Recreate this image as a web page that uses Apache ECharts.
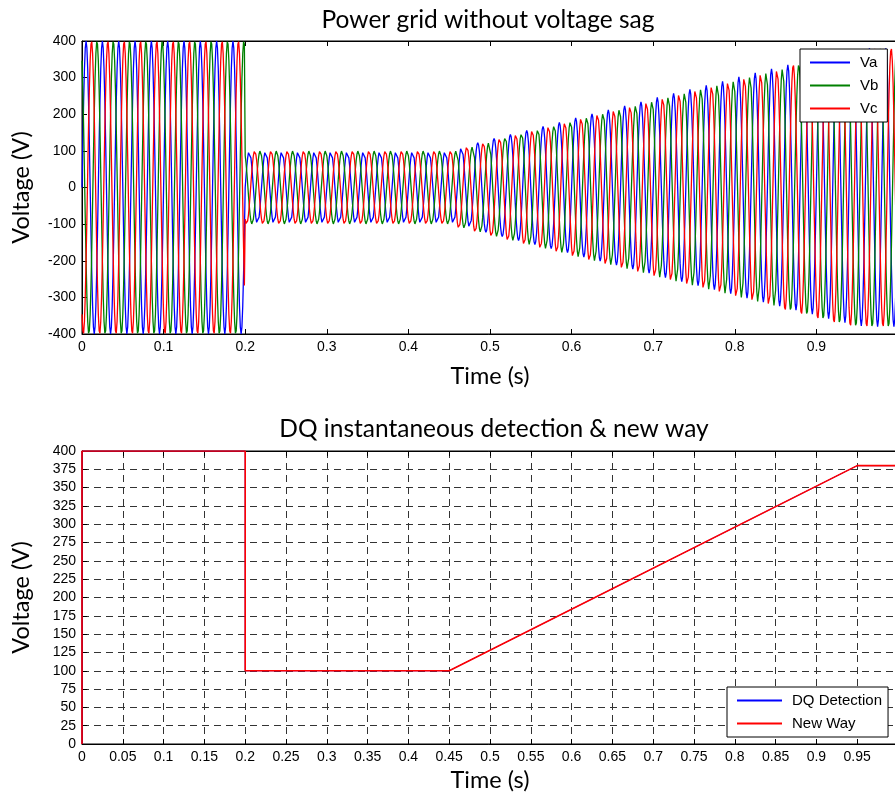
<!DOCTYPE html>
<html>
<head>
<meta charset="utf-8">
<script src="https://cdn.jsdelivr.net/npm/echarts@6/dist/echarts.min.js"></script>
<style>
html,body{margin:0;padding:0;background:#fff;}
#main{width:895px;height:798px;}
</style>
</head>
<body>
<div id="main"></div>
<script>
// ---- Top plot data (three-phase voltages) ----
const seriesNames = ['Va', 'Vb', 'Vc'];
const phaseDeg = [0, 120, -120];      // phase of each line
const gridFreq = 50;                  // Hz, read from cycle spacing
const sampleStep = 0.001;             // s
const cycleLen = 0.02;                // s, one cycle per amplitude entry
// peak amplitude of each 20 ms cycle, read from the envelope
const cycleAmp = [
  400, 400, 400, 400, 400, 400, 400, 400, 400, 400,
  100, 100, 100, 100, 100, 100, 100, 100, 100, 100,
  100, 100, 100, 111, 122, 134, 145, 156, 167, 178,
  190, 201, 212, 223, 234, 246, 257, 268, 279, 290,
  302, 313, 324, 335, 346, 358, 369, 378, 380, 380
];

// ---- Bottom plot data (detected magnitude) ----
const dqTime = [0, 0, 0.2, 0.2, 0.45, 0.95, 1];
const dqValue = [0, 400, 400, 100, 100, 380, 380];
const nwTime = [0, 0, 0.2, 0.2, 0.45, 0.95, 1];
const nwValue = [0, 400, 400, 100, 100, 380, 380];

// ---- Tick labels ----
const topYTicks = [-400, -300, -200, -100, 0, 100, 200, 300, 400];
const bottomYTicks = [0, 25, 50, 75, 100, 125, 150, 175, 200, 225, 250, 275, 300, 325, 350, 375, 400];

const colors = ['#0000ff', '#008000', '#ff0000'];

function buildPhase(k) {
  const pts = [];
  const n = Math.round(1 / sampleStep);
  for (let i = 0; i <= n; i++) {
    const t = i * sampleStep;
    const c = Math.min(cycleAmp.length - 1, Math.floor(t / cycleLen + 1e-9));
    const a = cycleAmp[c];
    pts.push([t, a * Math.sin(2 * Math.PI * gridFreq * t + phaseDeg[k] * Math.PI / 180)]);
  }
  return pts;
}
function zip(a, b) { return a.map((v, i) => [v, b[i]]); }

const tickFont = { fontFamily: 'Liberation Sans, Arial, sans-serif', fontSize: 14, color: '#000' };
const nameFont = { fontFamily: 'Lato, sans-serif', fontSize: 23.5, color: '#000' };
const axisLineStyle = { onZero: false, lineStyle: { color: '#000', width: 1 } };
const tickStyle = { inside: true, length: 5, lineStyle: { color: '#000' } };
const fmt = v => String(+v.toFixed(2));
const legendText = { fontFamily: 'Liberation Sans, Arial, sans-serif', fontSize: 15, color: '#000', padding: [0, 0, 0, 5] };

const chart = echarts.init(document.getElementById('main'), null, { renderer: 'canvas' });

const option = {
  animation: false,
  backgroundColor: '#fff',
  title: [
    { text: 'Power grid without voltage sag', left: 483, top: 3, textAlign: 'center',
      textStyle: { fontFamily: 'Lato, sans-serif', fontSize: 24.5, fontWeight: 'normal', color: '#000' } },
    { text: 'DQ instantaneous detection & new way', left: 489, top: 412, textAlign: 'center',
      textStyle: { fontFamily: 'Lato, sans-serif', fontSize: 24.5, fontWeight: 'normal', color: '#000' } }
  ],
  legend: [
    { data: seriesNames, orient: 'vertical', left: 800, top: 49,
      backgroundColor: '#fff', borderColor: '#000', borderWidth: 1,
      padding: [6, 9, 6, 10], itemGap: 8, itemWidth: 40, itemHeight: 2, icon: 'rect',
      textStyle: legendText },
    { data: ['DQ Detection', 'New Way'], orient: 'vertical', left: 727, top: 687,
      backgroundColor: '#fff', borderColor: '#000', borderWidth: 1,
      padding: [6, 6, 6, 10], itemGap: 8, itemWidth: 45, itemHeight: 2, icon: 'rect',
      textStyle: legendText }
  ],
  grid: [
    { left: 82, top: 41, width: 816, height: 293, outerBoundsMode: 'none', containLabel: false,
      show: true, borderColor: '#000', borderWidth: 1, backgroundColor: '#fff' },
    { left: 82, top: 451, width: 816, height: 293, outerBoundsMode: 'none', containLabel: false,
      show: true, borderColor: '#000', borderWidth: 1, backgroundColor: '#fff' }
  ],
  xAxis: [
    { type: 'value', gridIndex: 0, min: 0, max: 1, interval: 0.1, name: 'Time (s)', nameLocation: 'middle', nameGap: 30,
      nameTextStyle: nameFont, axisLine: axisLineStyle, axisTick: tickStyle,
      axisLabel: Object.assign({ margin: 6, formatter: fmt }, tickFont), splitLine: { show: false } },
    { type: 'value', gridIndex: 0, min: 0, max: 1, interval: 0.1, position: 'top',
      axisLine: axisLineStyle, axisTick: tickStyle,
      axisLabel: { show: false }, splitLine: { show: false } },
    { type: 'value', gridIndex: 1, min: 0, max: 1, interval: 0.05, name: 'Time (s)', nameLocation: 'middle', nameGap: 24,
      nameTextStyle: nameFont, axisLine: axisLineStyle, axisTick: tickStyle,
      axisLabel: Object.assign({ margin: 6, formatter: fmt }, tickFont),
      splitLine: { show: true, lineStyle: { color: '#333', type: [7, 5], width: 1 } } },
    { type: 'value', gridIndex: 1, min: 0, max: 1, interval: 0.05, position: 'top',
      axisLine: axisLineStyle, axisTick: tickStyle,
      axisLabel: { show: false }, splitLine: { show: false } }
  ],
  yAxis: [
    { type: 'value', gridIndex: 0, min: -400, max: 400, interval: 100, name: 'Voltage (V)', nameLocation: 'middle', nameGap: 49,
      nameTextStyle: nameFont, axisLine: axisLineStyle, axisTick: tickStyle,
      axisLabel: Object.assign({ margin: 6 }, tickFont), splitLine: { show: false } },
    { type: 'value', gridIndex: 1, min: 0, max: 400, interval: 25, name: 'Voltage (V)', nameLocation: 'middle', nameGap: 49,
      nameTextStyle: nameFont, axisLine: axisLineStyle, axisTick: tickStyle,
      axisLabel: Object.assign({ margin: 6 }, tickFont),
      splitLine: { show: true, lineStyle: { color: '#333', type: [7, 5], width: 1 } } }
  ],
  series: [
    ...seriesNames.map((n, k) => ({
      name: n, type: 'line', xAxisIndex: 0, yAxisIndex: 0, data: buildPhase(k),
      showSymbol: false, symbol: 'none', clip: true,
      lineStyle: { color: colors[k], width: 1.3 }, itemStyle: { color: colors[k] }
    })),
    { name: 'DQ Detection', type: 'line', xAxisIndex: 2, yAxisIndex: 1, data: zip(dqTime, dqValue),
      symbol: 'none', lineStyle: { color: '#0000ff', width: 1 }, itemStyle: { color: '#0000ff' } },
    { name: 'New Way', type: 'line', xAxisIndex: 2, yAxisIndex: 1, data: zip(nwTime, nwValue),
      symbol: 'none', lineStyle: { color: '#ff0000', width: 1.6 }, itemStyle: { color: '#ff0000' } }
  ]
};
chart.setOption(option);
</script>
</body>
</html>
